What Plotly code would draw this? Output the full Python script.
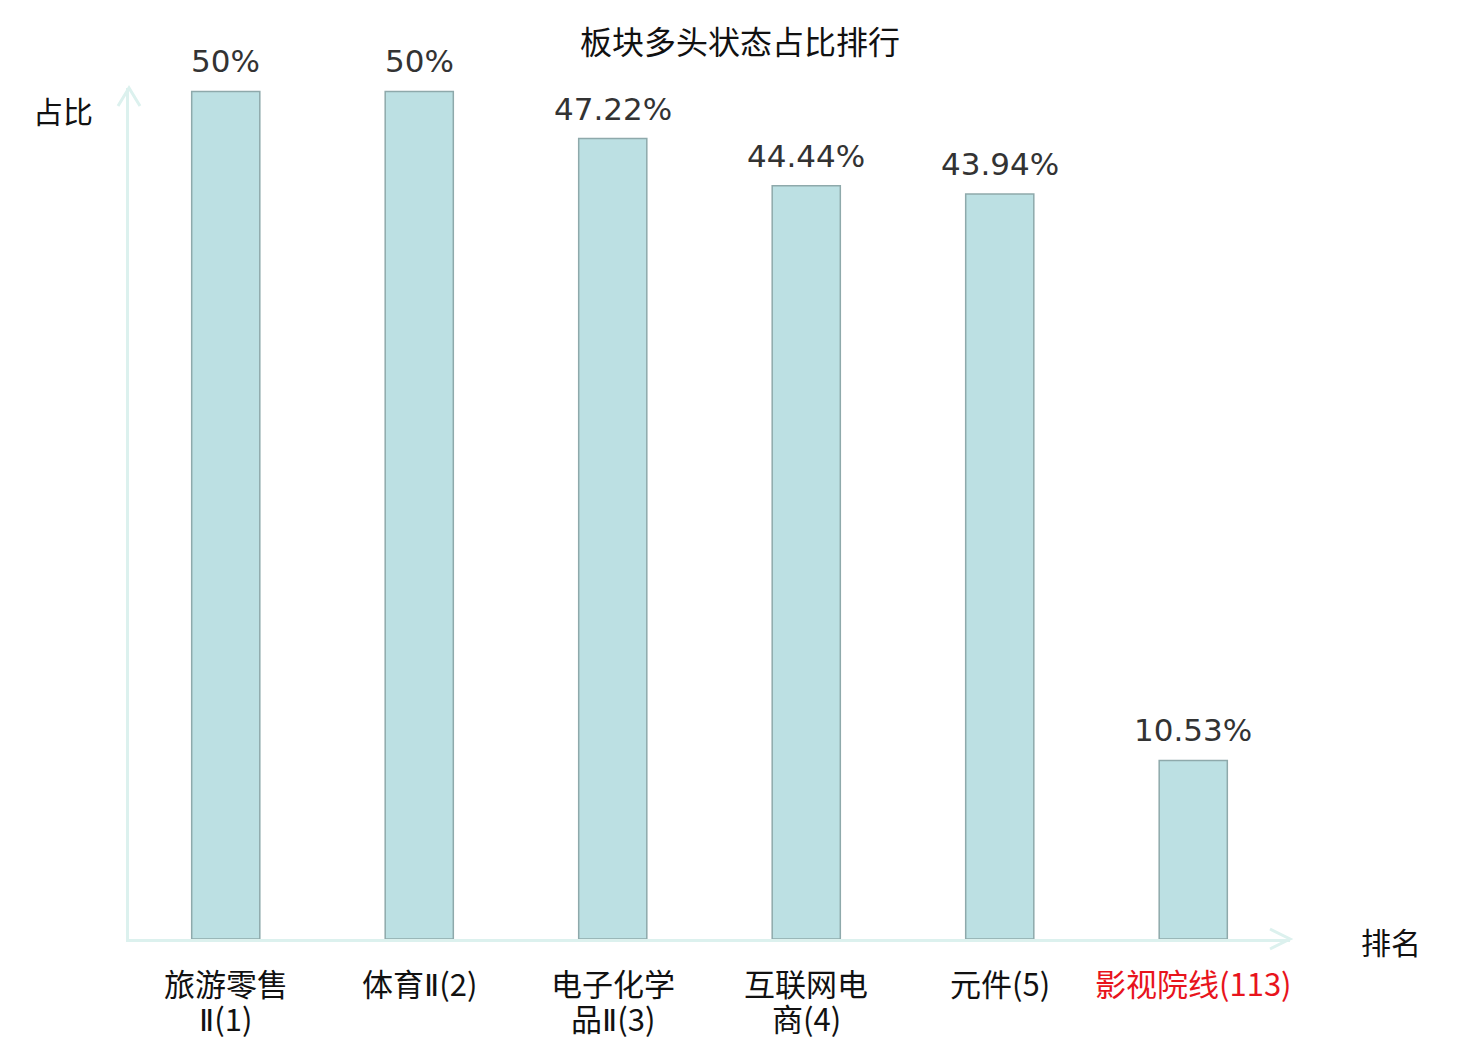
import plotly.graph_objects as go

categories = ["旅游零售Ⅱ", "体育Ⅱ", "电子化学品Ⅱ", "互联网电商", "元件", "影视院线"]
ranks = [1, 2, 3, 4, 5, 113]
label_lines = [["旅游零售", "Ⅱ(1)"], ["体育Ⅱ(2)"], ["电子化学", "品Ⅱ(3)"], ["互联网电", "商(4)"],
               ["元件(5)"], ["影视院线(113)"]]
label_colors = ["#111111", "#111111", "#111111", "#111111", "#111111", "#e8141c"]
values = [50, 50, 47.22, 44.44, 43.94, 10.53]
value_labels = ["50%", "50%", "47.22%", "44.44%", "43.94%", "10.53%"]

AXIS_COLOR = "#dcf1ee"
BAR_FILL = "#bce0e3"
BAR_LINE = "#8ea9ab"
CAT_FONT = "Noto Sans CJK SC"
ROMAN = "<span style='font-family:DejaVu Sans'>Ⅱ</span>"

fig = go.Figure()
fig.add_trace(go.Bar(
    x=categories, y=values, width=0.352,
    marker=dict(color=BAR_FILL, line=dict(color=BAR_LINE, width=1.5)),
    hoverinfo="skip",
))

for c, v, t in zip(categories, values, value_labels):
    fig.add_annotation(x=c, y=v, text=t, showarrow=False, yanchor="bottom", yshift=10,
                       font=dict(family="DejaVu Sans", size=31, color="#333333"))

# category labels: each line placed separately for tight line spacing
line_shifts = [-43, -78]
for c, lines, col in zip(categories, label_lines, label_colors):
    for s, shift in zip(lines, line_shifts):
        fig.add_annotation(x=c, y=0, text=s.replace("Ⅱ", ROMAN), showarrow=False,
                           yanchor="middle", yshift=shift,
                           font=dict(family=CAT_FONT, size=31, color=col))

# axis titles
fig.add_annotation(xref="paper", yref="paper", x=-0.0568, y=0.974, xanchor="center", yanchor="middle",
                   text="占比", showarrow=False,
                   font=dict(family="Noto Sans CJK SC", size=30, color="#111111"))
fig.add_annotation(xref="paper", yref="paper", x=1.087, y=-0.0024, xanchor="center", yanchor="middle",
                   text="排名", showarrow=False,
                   font=dict(family="Noto Sans CJK SC", size=30, color="#111111"))

# arrow heads
fig.add_shape(type="path", xref="paper", yref="paper", xsizemode="pixel", ysizemode="pixel",
              xanchor=0, yanchor=1, path="M -11,-18 L 0,0 L 11,-18",
              line=dict(color=AXIS_COLOR, width=3))
fig.add_shape(type="path", xref="paper", yref="paper", xsizemode="pixel", ysizemode="pixel",
              xanchor=1, yanchor=0, path="M -20,10 L 0,0 L -20,-10",
              line=dict(color=AXIS_COLOR, width=3))

fig.update_layout(
    width=1480, height=1040,
    margin=dict(l=121, r=198, t=80, b=109),
    plot_bgcolor="white", paper_bgcolor="white",
    showlegend=False,
    title=dict(text="板块多头状态占比排行", x=0.4946, xanchor="center", y=0.967, yanchor="middle",
               font=dict(family="Noto Sans CJK SC", size=32, color="#111111")),
    xaxis=dict(type="category", range=[-0.5, 5.5], showticklabels=False,
               showline=True, linecolor=AXIS_COLOR, linewidth=3, showgrid=False, zeroline=False,
               ticks=""),
    yaxis=dict(range=[0, 50.2], showline=True, linecolor=AXIS_COLOR, linewidth=3, showgrid=False,
               zeroline=False, showticklabels=False, ticks=""),
)

fig.write_html("out.html")
